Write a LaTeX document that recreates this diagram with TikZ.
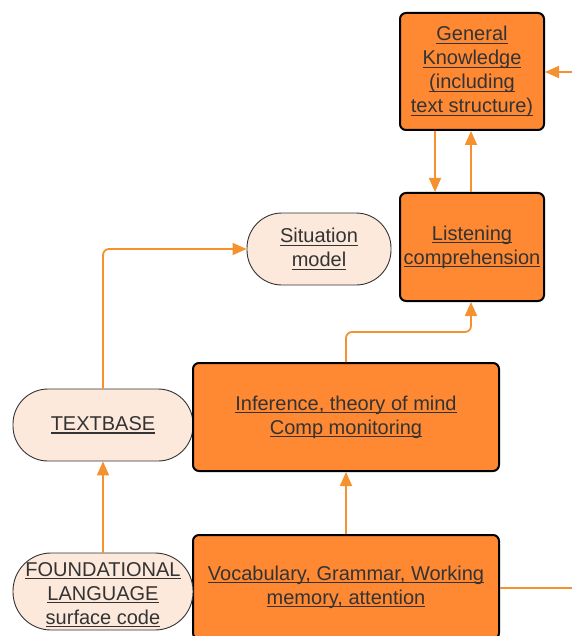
\documentclass[tikz,border=0pt]{standalone}
\usepackage{fontspec}
\setmainfont{Liberation Sans}
\usetikzlibrary{arrows.meta}
\definecolor{boxorange}{HTML}{FF8833}
\definecolor{peach}{HTML}{FDE9DB}
\definecolor{linkorange}{HTML}{F5922F}
\definecolor{inkgray}{HTML}{333333}
% underlined line of text
\newcommand\ulx[1]{\setbox0\hbox{#1}\rlap{\rule[-3.2pt]{\wd0}{1.3pt}}\box0}
\tikzset{
  basetext/.style={font=\fontsize{20}{24}\selectfont, text=inkgray, align=center, inner sep=0pt},
  skillbox/.style={basetext, draw=black, line width=2pt, fill=boxorange, rounded corners=6pt},
  levelpill/.style={basetext, draw=inkgray, line width=0.9pt, fill=peach, rounded corners=35pt},
  conn/.style={draw=linkorange, line width=1.8pt, -{Triangle[width=12pt,length=14pt]}},
  plainlink/.style={draw=linkorange, line width=1.8pt},
}
\begin{document}
\begin{tikzpicture}[x=1pt, y=-1pt]
\useasboundingbox (0,0) rectangle (572,636);

\node[skillbox, minimum width=144pt, minimum height=117pt] (gk) at (472,71.5)
  {\ulx{General}\\\ulx{Knowledge}\\\ulx{(including}\\\ulx{text structure)}};
\node[skillbox, minimum width=144pt, minimum height=108pt] (lc) at (472,247)
  {\ulx{Listening}\\\ulx{comprehension}};
\node[levelpill, minimum width=144pt, minimum height=72pt] (sm) at (319,249)
  {\ulx{Situation}\\\ulx{model}};
\node[levelpill, minimum width=180pt, minimum height=72pt] (tb) at (103,425)
  {\ulx{TEXTBASE}};
\node[skillbox, minimum width=306pt, minimum height=108pt] (inf) at (346,417)
  {\ulx{Inference, theory of mind}\\\ulx{Comp monitoring}};
\node[skillbox, minimum width=306pt, minimum height=104pt] (voc) at (346,587)
  {\ulx{Vocabulary, Grammar, Working}\\\ulx{memory, attention}};
\node[levelpill, minimum width=180pt, minimum height=77pt, rounded corners=38pt] (fl) at (103,591.5)
  {\rule{0pt}{20.4pt}\ulx{FOUNDATIONAL}\\\ulx{LANGUAGE}\\\ulx{surface code}};

\coordinate (gkin) at (572,72);
\coordinate (vocout) at (572,588);

\draw[conn] (gkin) -- (gkin -| gk.east);
\draw[conn] ([xshift=-37pt]gk.south) -- ([xshift=-37pt]lc.north);
\draw[conn] ([xshift=-1pt]lc.north) -- ([xshift=-1pt]gk.south);
\draw[conn, rounded corners=6pt] (inf.north) -- ++(0,-30) -| ([xshift=-1pt]lc.south);
\draw[conn, rounded corners=6pt] (tb.north) |- (sm.west);
\draw[conn] (fl.north) -- (tb.south);
\draw[conn] (voc.north) -- (inf.south);
\draw[plainlink] (vocout -| voc.east) -- (vocout);
\end{tikzpicture}
\end{document}
